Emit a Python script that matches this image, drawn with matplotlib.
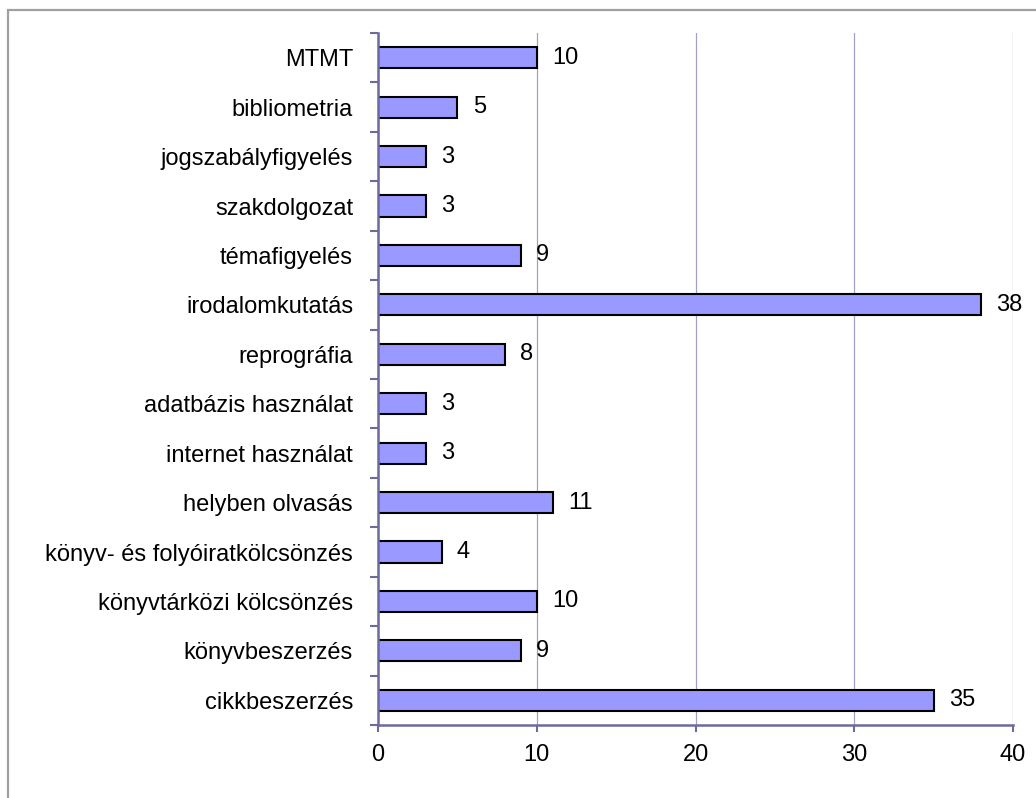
import matplotlib
matplotlib.use("Agg")
import matplotlib.pyplot as plt
from matplotlib.patches import Rectangle
import numpy as np

categories = ["MTMT", "bibliometria", "jogszabályfigyelés", "szakdolgozat",
              "témafigyelés", "irodalomkutatás", "reprográfia",
              "adatbázis használat", "internet használat", "helyben olvasás",
              "könyv- és folyóiratkölcsönzés", "könyvtárközi kölcsönzés",
              "könyvbeszerzés", "cikkbeszerzés"]
values = [10, 5, 3, 3, 9, 38, 8, 3, 3, 11, 4, 10, 9, 35]
xticks = [0, 10, 20, 30, 40]

plt.rcParams['font.family'] = ['Liberation Sans', 'DejaVu Sans']

W, H = 1036, 798
fig = plt.figure(figsize=(W / 100, H / 100), dpi=100)
fig.patch.set_facecolor('white')

# outer chart border (left and top visible)
fig.patches.append(Rectangle((8 / W, -0.05), 1.2, 1 - 10 / H + 0.05,
                             transform=fig.transFigure, fill=False,
                             edgecolor='#a0a0a0', linewidth=1.6, zorder=0))

left, right = 378 / W, 1013 / W
bottom, top = 1 - 725 / H, 1 - 33 / H
ax = fig.add_axes([left, bottom, right - left, top - bottom])

FS = 17
n = len(categories)
ypos = np.arange(n)[::-1]
bars = ax.barh(ypos, values, height=0.43, color='#9999ff',
               edgecolor='black', linewidth=1.5, zorder=3)
ax.bar_label(bars, labels=[str(v) for v in values], padding=11,
             fontsize=FS, color='black')

ax.set_xlim(0, 40)
ax.set_ylim(-0.5, n - 0.5)
ax.set_xticks(xticks)
ax.set_xticklabels([str(t) for t in xticks], fontsize=FS)
ax.set_yticks(ypos)
ax.set_yticklabels(categories, fontsize=FS)
ax.set_yticks(np.arange(-0.5, n, 1.0), minor=True)

axis_col = '#6b6b9e'
ax.tick_params(axis='y', which='major', length=0, pad=18)
ax.tick_params(axis='y', which='minor', length=6, width=1.5,
               color=axis_col, direction='out')
ax.tick_params(axis='x', which='major', length=5, width=1.5,
               color=axis_col, direction='out', pad=9)

ax.xaxis.grid(True, color='#a0a0c8', linewidth=0.9, zorder=0)
ax.set_axisbelow(True)

for s in ['top', 'right']:
    ax.spines[s].set_visible(False)
for s in ['left', 'bottom']:
    ax.spines[s].set_color(axis_col)
    ax.spines[s].set_linewidth(1.8)
    ax.spines[s].set_zorder(4)

fig.savefig('out.png', dpi=100)
